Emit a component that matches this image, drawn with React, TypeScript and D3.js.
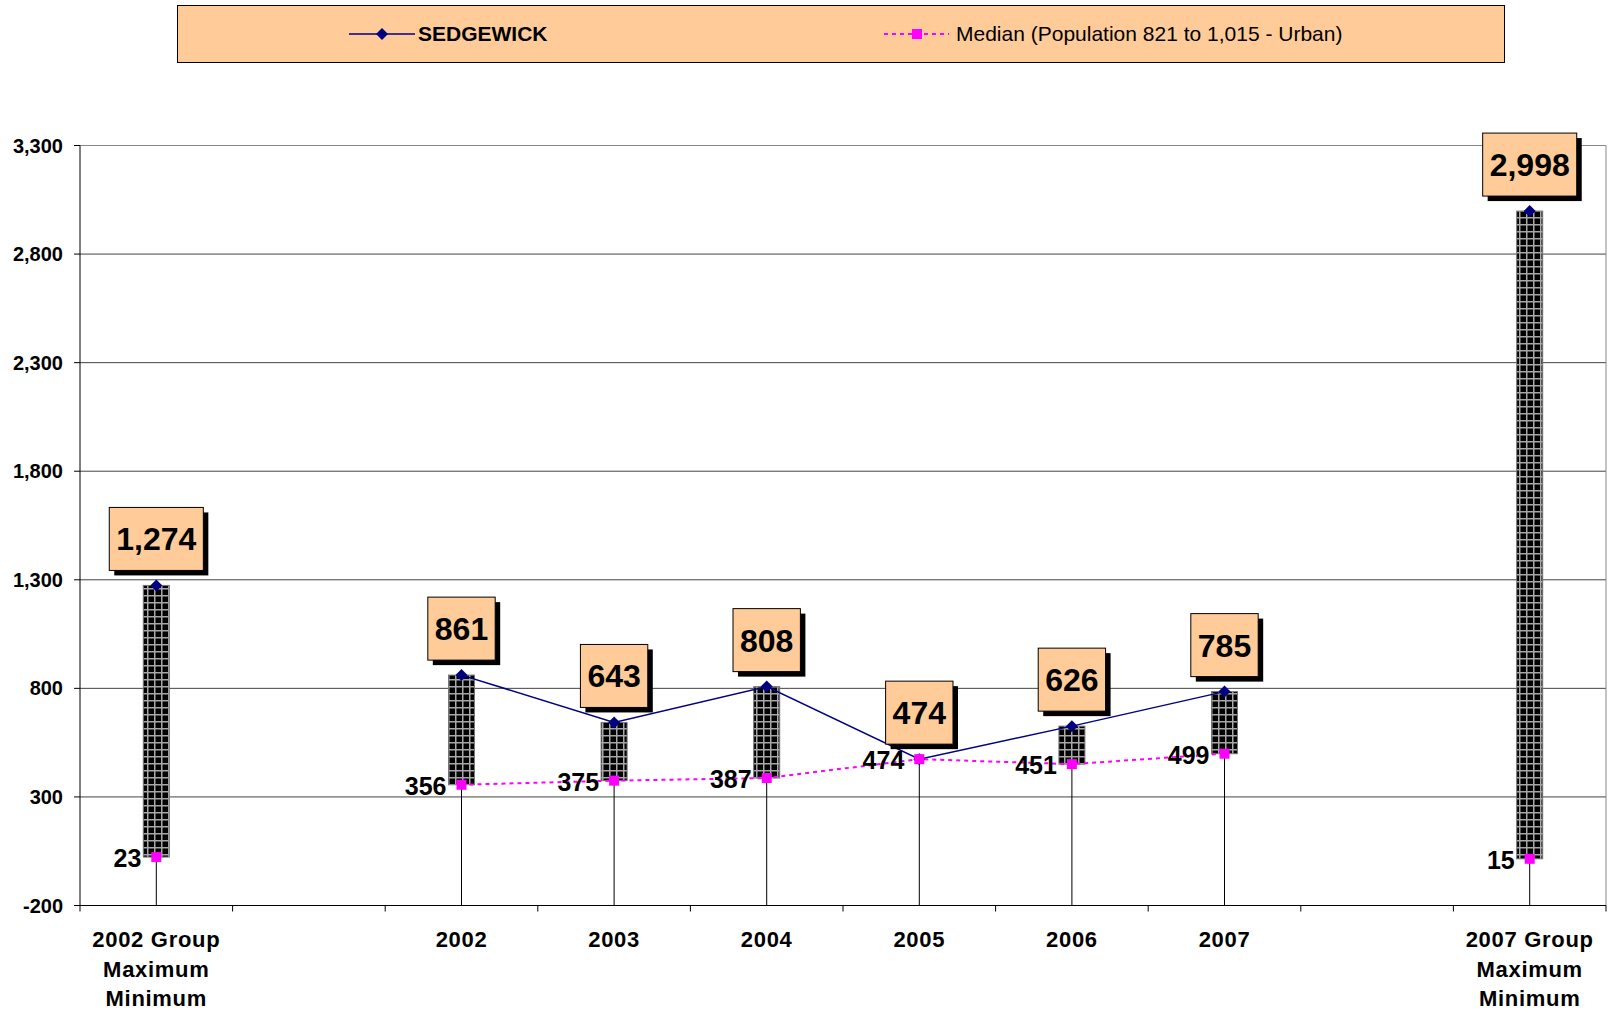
import React from 'react';
import * as d3 from 'd3';

// chart values
const slotKeys = ['g2002', 'gap1', '2002', '2003', '2004', '2005', '2006', '2007', 'gap2', 'g2007'];
const years = ['2002', '2003', '2004', '2005', '2006', '2007'];
const sedgewick = [861, 643, 808, 474, 626, 785];
const median = [356, 375, 387, 474, 451, 499];
const groupKeys = ['g2002', 'g2007'];
const groupTitles = ['2002 Group', '2007 Group'];
const groupMax = [1274, 2998];
const groupMin = [23, 15];
const yTicks = [-200, 300, 800, 1300, 1800, 2300, 2800, 3300];

const W = 1608;
const H = 1013;
const FONT = '"Liberation Sans", Arial, Helvetica, sans-serif';
const PEACH = '#FFCC99';
const NAVY = '#000080';
const MAGENTA = '#FF00FF';

interface Row {
  key: string;
  hi: number;
  lo: number;
  labels: string[];
}

const rows: Row[] = [
  ...groupKeys.map((k, i) => ({ key: k, hi: groupMax[i], lo: groupMin[i], labels: [groupTitles[i], 'Maximum', 'Minimum'] })),
  ...years.map((y, i) => ({ key: y, hi: sedgewick[i], lo: median[i], labels: [y] })),
];

// d3.format puts a unicode minus in; the chart uses a plain hyphen
const fmt = (v: number) => d3.format(',')(v).replace('\u2212', '-');

const App: React.FC = () => {
  const left = 80;
  const right = 1606;
  const top = 145.5;
  const bottom = 905.5;

  const x = d3.scaleBand<string>().domain(slotKeys).range([left, right]).padding(0);
  const y = d3.scaleLinear().domain([-200, 3300]).range([bottom, top]);
  const cx = (k: string) => (x(k) as number) + x.bandwidth() / 2;

  const seriesLine = d3.line<number>()
    .x((_, i) => cx(years[i]))
    .y(d => y(d));

  const diamond = d3.symbol().type(d3.symbolSquare).size(72)() as string;
  const square = d3.symbol().type(d3.symbolSquare).size(100)() as string;

  const barW = 26;
  const boundaries = [...slotKeys.map(k => x(k) as number), right];

  const boxW = (s: string) => {
    let w = 0;
    for (const c of s) w += c === ',' ? 0.278 : 0.556;
    return w * 32 + 14;
  };

  return (
    <div style={{ position: 'absolute', left: 0, top: 0 }}>
      <svg width={W} height={H} style={{ display: 'block', background: '#fff' }} fontFamily={FONT}>
        <defs>
          <pattern id="grid" width="7" height="7" patternUnits="userSpaceOnUse">
            <rect width="7" height="7" fill="#000" />
            <rect x="0" y="0" width="7" height="1.5" fill="#a8a8a8" />
            <rect x="0" y="0" width="1.5" height="7" fill="#a8a8a8" />
          </pattern>
        </defs>

        {/* legend */}
        <rect x={177.5} y={5.5} width={1327} height={57} fill={PEACH} stroke="#000" strokeWidth={1} />
        <line x1={349} x2={415} y1={34} y2={34} stroke={NAVY} strokeWidth={1.5} />
        <path d={diamond} transform="translate(382,34) rotate(45)" fill={NAVY} />
        <text x={418} y={41} fontSize={21} fontWeight="bold">SEDGEWICK</text>
        <line x1={884} x2={949} y1={34} y2={34} stroke={MAGENTA} strokeWidth={2} strokeDasharray="4,4" />
        <path d={square} transform="translate(917,34)" fill={MAGENTA} />
        <text x={956} y={41} fontSize={21}>Median (Population 821 to 1,015 - Urban)</text>

        {/* gridlines */}
        {yTicks.map(t => (
          <line key={t} x1={left} x2={right} y1={y(t)} y2={y(t)}
            stroke={t === 3300 ? '#888' : '#444'} strokeWidth={1} />
        ))}
        <line x1={right} x2={right} y1={top} y2={bottom} stroke="#888" />

        {/* y axis */}
        <line x1={left} x2={left} y1={top} y2={bottom} stroke="#000" />
        {yTicks.map(t => (
          <g key={t}>
            <line x1={left - 6} x2={left} y1={y(t)} y2={y(t)} stroke="#000" />
            <text x={left - 17} y={y(t) + 7} fontSize={20} fontWeight="bold" textAnchor="end">{fmt(t)}</text>
          </g>
        ))}

        {/* x axis */}
        <line x1={left} x2={right} y1={bottom} y2={bottom} stroke="#000" />
        {boundaries.map((b, i) => (
          <line key={i} x1={b} x2={b} y1={bottom} y2={bottom + 6} stroke="#000" />
        ))}
        {rows.map(r => (
          <text key={r.key} textAnchor="middle" fontSize={22} fontWeight="bold" letterSpacing={0.7}>
            {r.labels.map((l, i) => (
              <tspan key={i} x={cx(r.key)} y={947 + i * 29.5}>{l}</tspan>
            ))}
          </text>
        ))}

        {/* drop lines */}
        {rows.map(r => (
          <line key={r.key} x1={cx(r.key)} x2={cx(r.key)} y1={y(r.lo)} y2={bottom} stroke="#000" />
        ))}

        {/* hi-lo bars */}
        {rows.filter(r => r.hi > r.lo).map(r => (
          <rect key={r.key} x={cx(r.key) - barW / 2} y={y(r.hi)} width={barW}
            height={y(r.lo) - y(r.hi)} fill="url(#grid)" stroke="#777" strokeWidth={1} />
        ))}

        {/* lines */}
        <path d={seriesLine(sedgewick) as string} fill="none" stroke={NAVY} strokeWidth={1.5} />
        <path d={seriesLine(median) as string} fill="none" stroke={MAGENTA} strokeWidth={2} strokeDasharray="4,4" />

        {/* markers */}
        {rows.map(r => (
          <g key={r.key}>
            <path d={diamond} transform={`translate(${cx(r.key)},${y(r.hi)}) rotate(45)`} fill={NAVY} />
            <path d={square} transform={`translate(${cx(r.key)},${y(r.lo)})`} fill={MAGENTA} />
          </g>
        ))}

        {/* min labels */}
        {rows.map(r => (
          <text key={r.key} x={cx(r.key) - 15} y={y(r.lo) + 10} fontSize={25} fontWeight="bold" textAnchor="end">
            {fmt(r.lo)}
          </text>
        ))}

        {/* max value boxes */}
        {rows.map(r => {
          const s = fmt(r.hi);
          const w = boxW(s);
          const bx = cx(r.key) - w / 2;
          const by = y(r.hi) - 15 - 63;
          return (
            <g key={r.key}>
              <rect x={bx + 5} y={by + 5} width={w} height={63} fill="#000" />
              <rect x={bx} y={by} width={w} height={63} fill={PEACH} stroke="#000" strokeWidth={1} />
              <text x={cx(r.key)} y={by + 43} fontSize={32} fontWeight="bold" textAnchor="middle">{s}</text>
            </g>
          );
        })}
      </svg>
    </div>
  );
};

export default App;
